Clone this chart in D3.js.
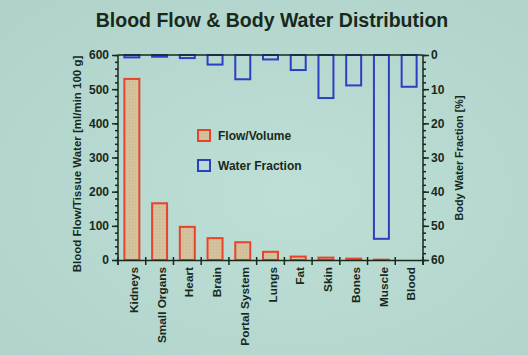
<!DOCTYPE html>
<html><head><meta charset="utf-8">
<script src="https://cdn.jsdelivr.net/npm/d3@7"></script>
<style>html,body{margin:0;padding:0;overflow:hidden;background:#b7d8d0}</style>
</head><body>
<svg id="c" width="528" height="355"></svg>
<script>
const categories = ["Kidneys","Small Organs","Heart","Brain","Portal System","Lungs","Fat","Skin","Bones","Muscle","Blood"];
const flowValues = [530,166,97,64,52,24,10,7,4,1,0];
const waterValues = [0.7,0.5,0.9,2.8,7.1,1.3,4.4,12.6,8.9,53.8,9.3];
const leftTicks = [0,100,200,300,400,500,600];
const rightTicks = [0,10,20,30,40,50,60];
const legendLabels = ["Flow/Volume","Water Fraction"];
const titleText = "Blood Flow & Body Water Distribution";
const leftTitle = "Blood Flow/Tissue Water [ml/min 100 g]";
const rightTitle = "Body Water Fraction [%]";

const svg = d3.select("#c");
const ink = "#18291c", red = "#e8432b", blue = "#2b3fc2", tan = "#d3c29d";
const font = "'Liberation Sans', Arial, Helvetica, sans-serif";

const defs = svg.append("defs");
const g1 = defs.append("radialGradient").attr("id","bg").attr("cx","55%").attr("cy","55%").attr("r","75%");
g1.append("stop").attr("offset","0%").attr("stop-color","#bddfd6");
g1.append("stop").attr("offset","100%").attr("stop-color","#afd2ca");
const pat = defs.append("pattern").attr("id","hatch").attr("width",3).attr("height",3).attr("patternUnits","userSpaceOnUse");
pat.append("rect").attr("width",3).attr("height",3).attr("fill",tan);
pat.append("rect").attr("width",1).attr("height",1).attr("fill","#c8b48e");
svg.append("rect").attr("width",528).attr("height",355).attr("fill","url(#bg)");

const L = 118, R = 423, T = 55, B = 260;
const x = d3.scaleBand().domain(categories).range([L,R]).paddingInner(0.46).paddingOuter(0.23);
const yL = d3.scaleLinear().domain([0,600]).range([B,T]);
const yR = d3.scaleLinear().domain([0,60]).range([T,B]);

svg.append("text").attr("x",272).attr("y",27).attr("text-anchor","middle")
  .attr("font-family",font).attr("font-weight","bold").attr("font-size",19.5).attr("fill",ink).text(titleText);

// bars
svg.append("g").selectAll("rect").data(categories).join("rect")
  .attr("x",d=>x(d)).attr("width",x.bandwidth())
  .attr("y",(d,i)=>yL(flowValues[i])).attr("height",(d,i)=>B-yL(flowValues[i]))
  .attr("fill","url(#hatch)").attr("stroke",red).attr("stroke-width",2);
svg.append("g").selectAll("rect").data(categories).join("rect")
  .attr("x",d=>x(d)).attr("width",x.bandwidth())
  .attr("y",T).attr("height",(d,i)=>yR(waterValues[i])-T)
  .attr("fill","none").attr("stroke",blue).attr("stroke-width",2);

// frame lines
svg.append("line").attr("x1",L).attr("x2",R).attr("y1",T).attr("y2",T).attr("stroke",ink).attr("stroke-width",1.5);

// left axis
const la = svg.append("g").attr("transform",`translate(${L},0)`)
  .call(d3.axisLeft(yL).tickValues(leftTicks).tickSize(6).tickPadding(3));
const lm = svg.append("g").attr("transform",`translate(${L},0)`)
  .call(d3.axisLeft(yL).tickValues(d3.range(0,601,20)).tickSize(3).tickFormat(""));
// right axis
const ra = svg.append("g").attr("transform",`translate(${R},0)`)
  .call(d3.axisRight(yR).tickValues(rightTicks).tickSize(6).tickPadding(2));
const rm = svg.append("g").attr("transform",`translate(${R},0)`)
  .call(d3.axisRight(yR).tickValues(d3.range(0,61,2)).tickSize(3).tickFormat(""));
// bottom axis
const bounds = categories.map(c=>x(c)-x.step()*x.paddingInner()/2).concat([R]);
const ba = svg.append("g").attr("transform",`translate(0,${B})`)
  .call(d3.axisBottom(x).tickSize(0).tickPadding(7));
ba.selectAll(".tick text").attr("transform","rotate(-90)").attr("text-anchor","end")
  .attr("x",-7).attr("y",2).attr("dy","0.35em");
svg.append("g").selectAll("line").data(bounds).join("line")
  .attr("x1",d=>d).attr("x2",d=>d).attr("y1",B-3).attr("y2",B+5).attr("stroke",ink).attr("stroke-width",1.5);

[la,lm,ra,rm,ba].forEach(a=>{
  a.selectAll("path.domain").attr("stroke",ink).attr("stroke-width",1.5);
  a.selectAll(".tick line").attr("stroke",ink).attr("stroke-width",1.5);
  a.selectAll("text").attr("font-family",font).attr("font-weight","bold").attr("fill",ink);
});
la.selectAll("text").attr("font-size",12);
ra.selectAll("text").attr("font-size",12);
ba.selectAll("text").attr("font-size",11.8);
lm.selectAll("path.domain").remove(); rm.selectAll("path.domain").remove();
la.selectAll("path.domain").attr("d",`M0,${T}V${B+5}`);
ra.selectAll("path.domain").attr("d",`M0,${T}V${B+5}`);

// axis titles
svg.append("text").attr("transform","translate(77,164) rotate(-90)").attr("text-anchor","middle").attr("dy","0.35em")
  .attr("font-family",font).attr("font-weight","bold").attr("font-size",11.5).attr("fill",ink).text(leftTitle);
svg.append("text").attr("transform","translate(459,158) rotate(-90)").attr("text-anchor","middle").attr("dy","0.35em")
  .attr("font-family",font).attr("font-weight","bold").attr("font-size",10.8).attr("fill",ink).text(rightTitle);

// legend
const lg = svg.append("g").selectAll("g").data(legendLabels).join("g")
  .attr("transform",(d,i)=>`translate(198,${130+i*30})`);
lg.append("rect").attr("width",12).attr("height",11).attr("stroke-width",2)
  .attr("fill",(d,i)=>i===0?"url(#hatch)":"none").attr("stroke",(d,i)=>i===0?red:blue);
lg.append("text").attr("x",20).attr("y",5.5).attr("dy","0.35em").attr("font-family",font).attr("font-weight","bold")
  .attr("font-size",12).attr("fill",ink).text(d=>d);
</script>
</body></html>
